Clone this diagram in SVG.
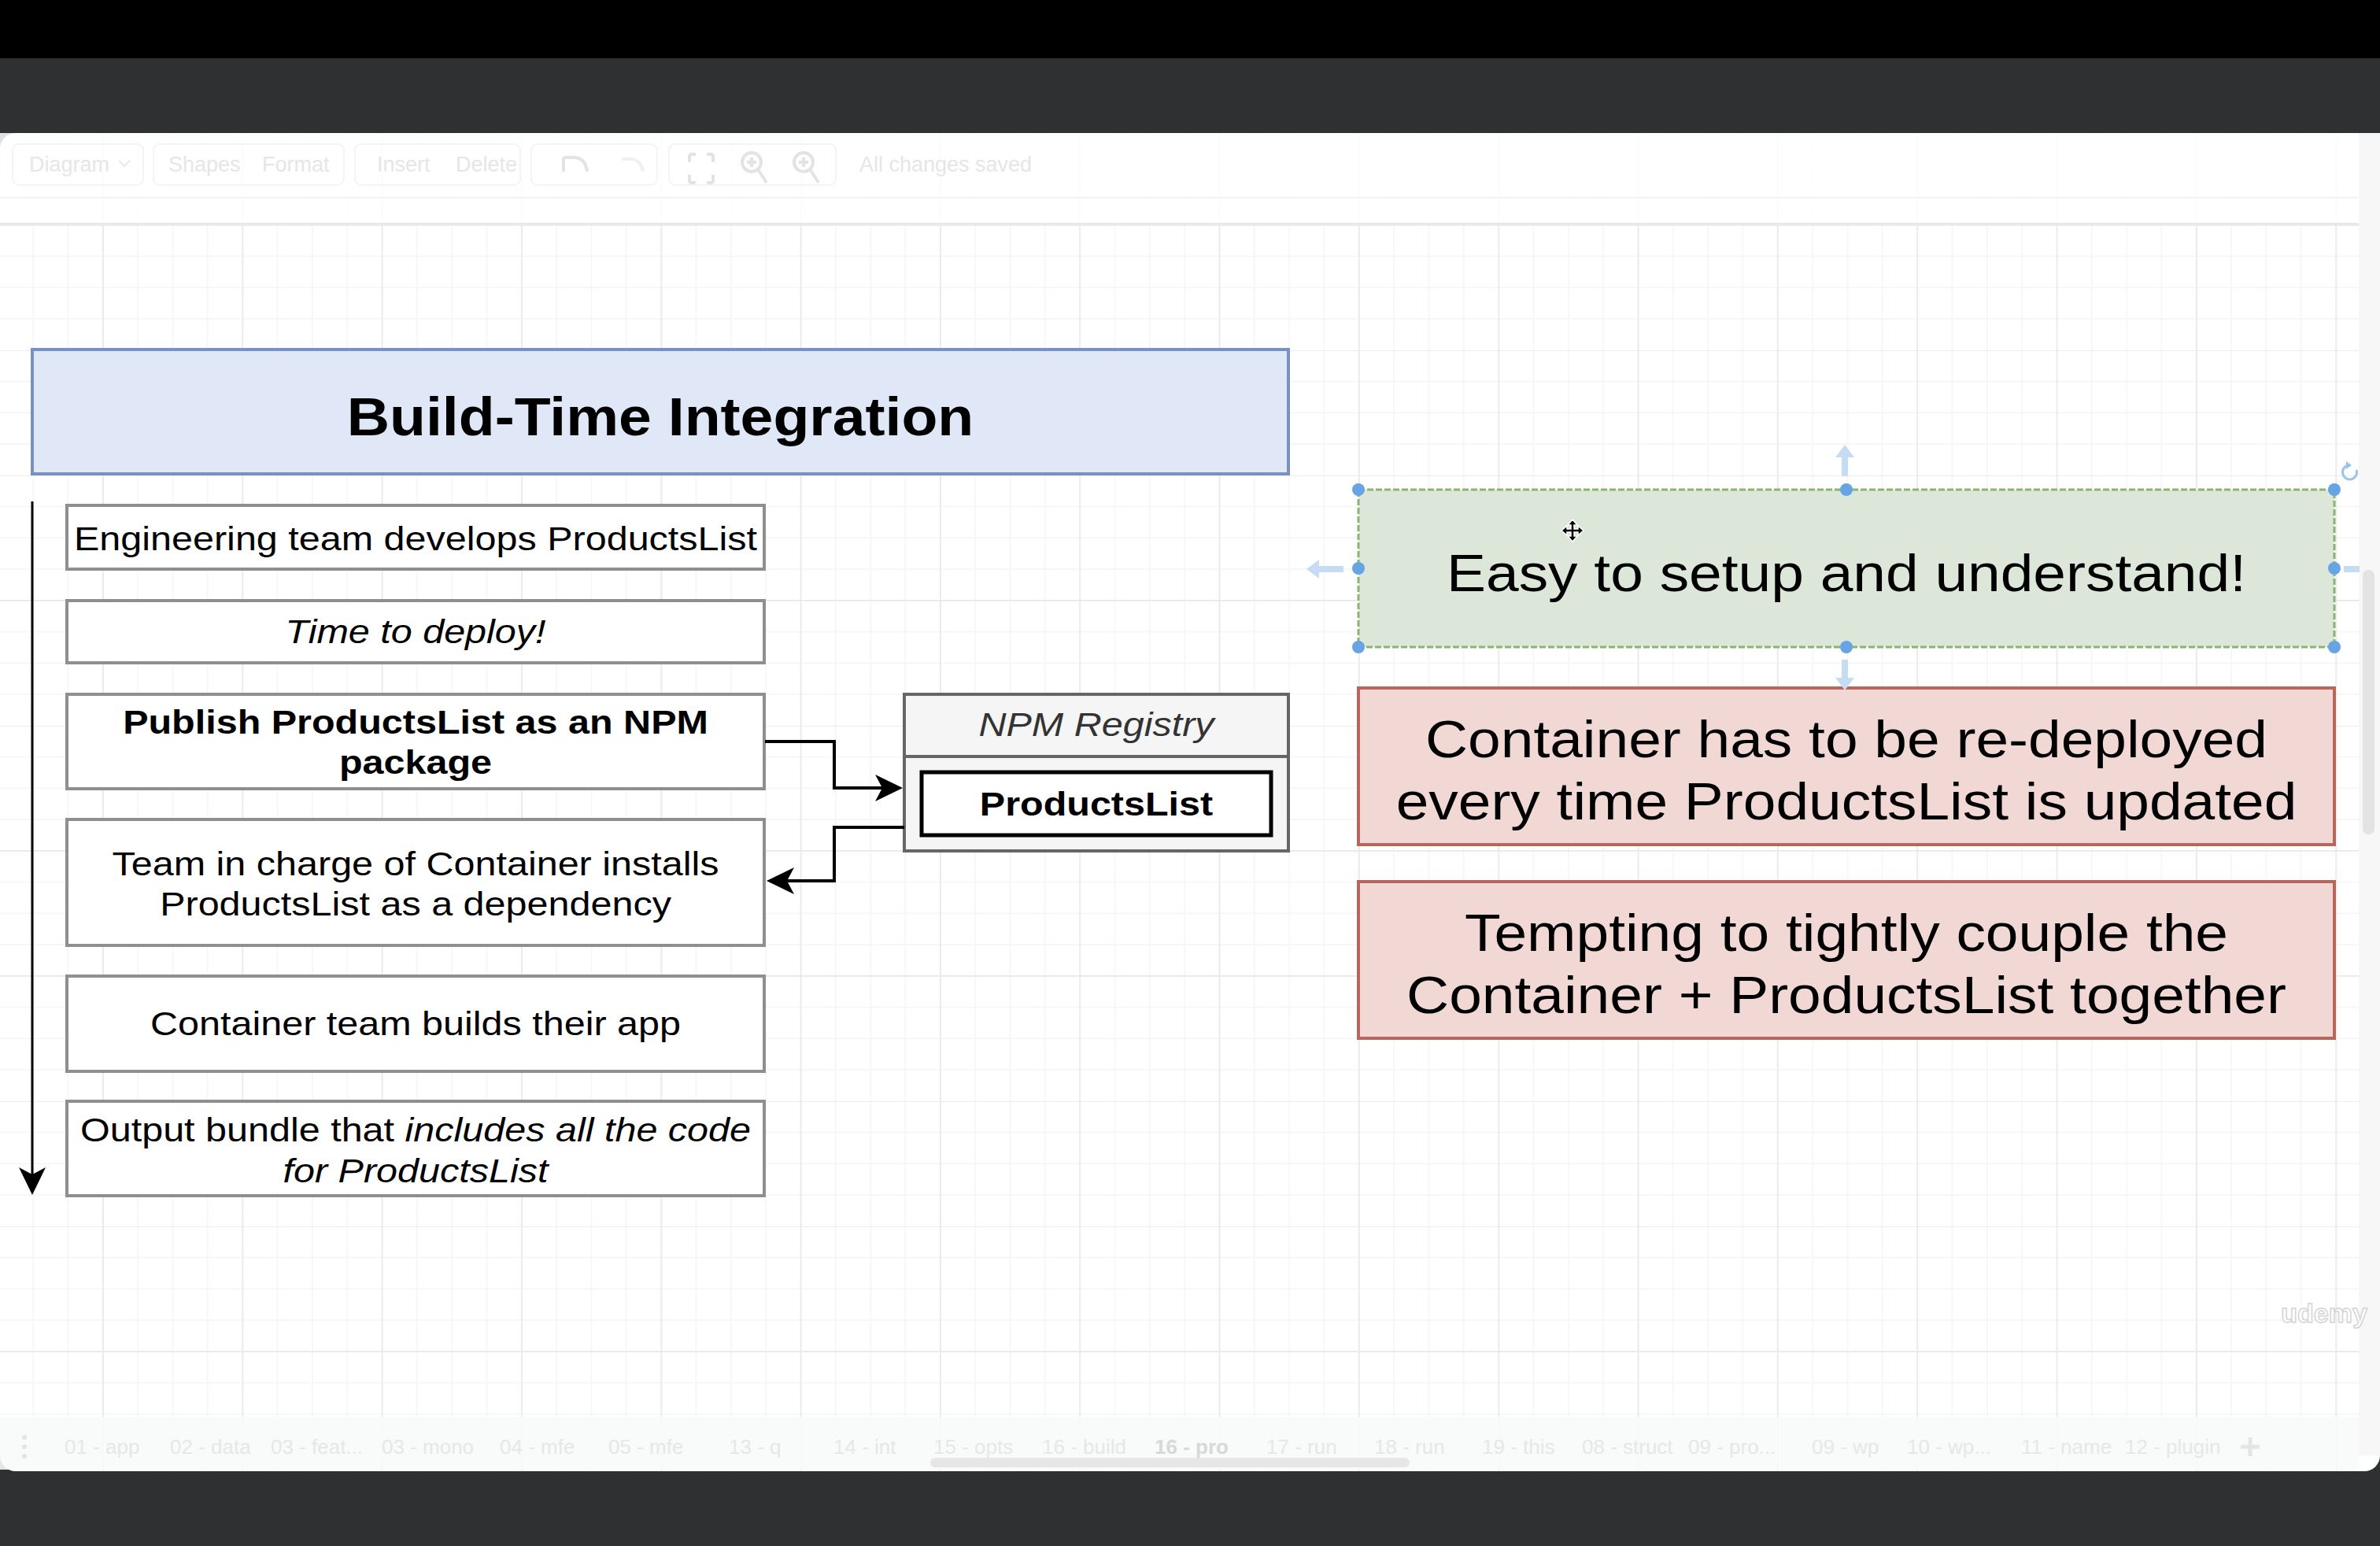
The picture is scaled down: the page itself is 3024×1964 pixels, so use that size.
<svg xmlns="http://www.w3.org/2000/svg" width="3024" height="1964" viewBox="0 0 3024 1964">
  <defs>
    <style>
      .box{fill:#ffffff;stroke:#8f8f8f;stroke-width:4}
      .t{font-family:"Liberation Sans",Arial,Helvetica,sans-serif;fill:#000;text-anchor:middle}
      .s{font-size:43px}
      .big{font-size:66px}
      .b{font-weight:bold}
      .i{font-style:italic}
      .conn{fill:none;stroke:#000;stroke-width:4}
      .ui{font-family:"Liberation Sans",Arial,Helvetica,sans-serif;fill:#e6e6e6;font-size:27px}
      .tab{font-family:"Liberation Sans",Arial,Helvetica,sans-serif;fill:#e7e7e7;font-size:26px}
      .handle{fill:#66a4e4}
      .hover{fill:#c6dcf2;stroke:none}
      .pink{fill:#f2d8d5;stroke:#b8655c;stroke-width:4}
    </style>
    <pattern id="grid" patternUnits="userSpaceOnUse" x="130" y="285" width="177.33" height="159">
      <g fill="#f5f5f5">
        <rect x="44.33" y="0" width="1.6" height="159"/>
        <rect x="88.67" y="0" width="1.6" height="159"/>
        <rect x="133" y="0" width="1.6" height="159"/>
        <rect x="0" y="39.75" width="177.33" height="1.6"/>
        <rect x="0" y="79.5" width="177.33" height="1.6"/>
        <rect x="0" y="119.25" width="177.33" height="1.6"/>
      </g>
      <g fill="#e9e9e9">
        <rect x="0" y="0" width="1.8" height="159"/>
        <rect x="0" y="0" width="177.33" height="1.8"/>
      </g>
    </pattern>
    <marker id="arr" markerUnits="userSpaceOnUse" markerWidth="40" markerHeight="40" viewBox="0 0 40 40" refX="28" refY="20" orient="auto">
      <path d="M3,3 L38,20 L3,37 L12,20 Z" fill="#000"/>
    </marker>
  </defs>

  <!-- window chrome -->
  <rect x="0" y="0" width="3024" height="1964" fill="#2f3032"/>
  <rect x="0" y="0" width="3024" height="74" fill="#000"/>
  <rect x="0" y="169" width="3024" height="1700" rx="20" fill="#ffffff"/>
  <rect x="0" y="169" width="2997" height="1700" fill="url(#grid)"/>
  <rect x="2997" y="169" width="27" height="1680" fill="#f7f7f7"/>
  <rect x="3002" y="724" width="15" height="336" rx="7" fill="#e3e3e3"/>

  <!-- toolbar (faint) -->
  <g id="toolbar">
    <rect x="0" y="169" width="2997" height="115" fill="#ffffff" opacity="0.85"/>
    <rect x="0" y="250" width="2997" height="2" fill="#f3f3f3"/>
    <rect x="0" y="283" width="2997" height="2" fill="#e8e8e8"/>
    <g fill="none" stroke="#f4f4f4" stroke-width="2">
      <rect x="16" y="183" width="166" height="52" rx="8"/>
      <rect x="195" y="183" width="242" height="52" rx="8"/>
      <rect x="451" y="183" width="210" height="52" rx="8"/>
      <rect x="675" y="183" width="160" height="52" rx="8"/>
      <rect x="850" y="183" width="212" height="52" rx="8"/>
    </g>
    <text class="ui" x="37" y="218">Diagram</text>
    <path d="M151,204 L158,211 L165,204" fill="none" stroke="#e8e8e8" stroke-width="2"/>
    <text class="ui" x="214" y="218">Shapes</text>
    <text class="ui" x="333" y="218">Format</text>
    <text class="ui" x="479" y="218">Insert</text>
    <text class="ui" x="579" y="218">Delete</text>
    <g fill="none" stroke="#e3e3e3" stroke-width="4">
      <path d="M716,218 L716,200 M716,200 L728,200 Q744,200 746,218"/>
      <path d="M817,218 Q814,202 800,202 L790,202" stroke="#f0f0f0"/>
      <path d="M876,196 L876,206 M876,196 L884,196 M906,196 L898,196 M906,196 L906,206 M876,232 L876,222 M876,232 L884,232 M906,232 L906,222 M906,232 L898,232"/>
      <circle cx="955" cy="206" r="12"/>
      <path d="M963,215 L974,232 M949,206 L961,206 M955,200 L955,212"/>
      <circle cx="1021" cy="206" r="12"/>
      <path d="M1029,215 L1040,232 M1015,206 L1027,206 M1021,200 L1021,212"/>
    </g>
    <text class="ui" x="1092" y="218">All changes saved</text>
  </g>

  <!-- title -->
  <g id="title">
    <rect x="41" y="444" width="1596" height="158" fill="#e0e8f8" stroke="#7592c2" stroke-width="4"/>
    <text class="t b" font-size="69" transform="translate(839 0) scale(1.09 1)" x="0" y="553">Build-Time Integration</text>
  </g>

  <!-- steps -->
  <g id="step1">
    <rect class="box" x="85" y="642" width="886" height="81"/>
    <text class="t s" transform="translate(528 0) scale(1.128 1)" x="0" y="699">Engineering team develops ProductsList</text>
  </g>
  <g id="step2">
    <rect class="box" x="85" y="763" width="886" height="79"/>
    <text class="t s i" transform="translate(528 0) scale(1.128 1)" x="0" y="817">Time to deploy!</text>
  </g>
  <g id="step3">
    <rect class="box" x="85" y="882" width="886" height="120"/>
    <text class="t s b" transform="translate(528 0) scale(1.128 1)" x="0" y="932">Publish ProductsList as an NPM</text>
    <text class="t s b" transform="translate(528 0) scale(1.128 1)" x="0" y="983">package</text>
  </g>
  <g id="step4">
    <rect class="box" x="85" y="1041" width="886" height="160"/>
    <text class="t s" transform="translate(528 0) scale(1.128 1)" x="0" y="1112">Team in charge of Container installs</text>
    <text class="t s" transform="translate(528 0) scale(1.128 1)" x="0" y="1163">ProductsList as a dependency</text>
  </g>
  <g id="step5">
    <rect class="box" x="85" y="1240" width="886" height="121"/>
    <text class="t s" transform="translate(528 0) scale(1.128 1)" x="0" y="1315">Container team builds their app</text>
  </g>
  <g id="step6">
    <rect class="box" x="85" y="1399" width="886" height="120"/>
    <text class="t s" transform="translate(528 0) scale(1.128 1)" x="0" y="1450">Output bundle that <tspan class="i">includes all the code</tspan></text>
    <text class="t s i" transform="translate(528 0) scale(1.128 1)" x="0" y="1502">for ProductsList</text>
  </g>

  <!-- NPM registry -->
  <g id="npm-registry">
    <rect x="1149" y="882" width="488" height="199" fill="#f5f5f5" stroke="#666666" stroke-width="4"/>
    <line x1="1149" y1="961" x2="1637" y2="961" stroke="#666666" stroke-width="4"/>
    <text class="t s i" style="fill:#333333" transform="translate(1393 0) scale(1.128 1)" x="0" y="935">NPM Registry</text>
  </g>
  <g id="npm-productslist">
    <rect x="1171" y="981" width="444" height="80" fill="#ffffff" stroke="#000000" stroke-width="5"/>
    <text class="t s b" transform="translate(1393 0) scale(1.128 1)" x="0" y="1036">ProductsList</text>
  </g>

  <!-- right side notes -->
  <g id="pro-easy">
    <rect x="1726" y="622" width="1240" height="200" fill="#dde7d9" stroke="#8db372" stroke-width="3" stroke-dasharray="8 3"/>
    <text class="t big" transform="translate(2346 0) scale(1.135 1)" x="0" y="751">Easy to setup and understand!</text>
  </g>
  <g id="con-redeploy">
    <rect class="pink" x="1726" y="874" width="1240" height="199"/>
    <text class="t big" transform="translate(2346 0) scale(1.135 1)" x="0" y="962">Container has to be re-deployed</text>
    <text class="t big" transform="translate(2346 0) scale(1.135 1)" x="0" y="1041">every time ProductsList is updated</text>
  </g>
  <g id="con-coupling">
    <rect class="pink" x="1726" y="1120" width="1240" height="199"/>
    <text class="t big" transform="translate(2346 0) scale(1.135 1)" x="0" y="1208">Tempting to tightly couple the</text>
    <text class="t big" transform="translate(2346 0) scale(1.135 1)" x="0" y="1287">Container + ProductsList together</text>
  </g>

  <!-- connectors -->
  <g id="connectors">
    <path d="M41,637 V1508" fill="none" stroke="#000" stroke-width="3" marker-end="url(#arr)"/>
    <path class="conn" d="M972,942 H1060 V1001 H1137" marker-end="url(#arr)"/>
    <path class="conn" d="M1149,1051 H1060 V1119 H984" marker-end="url(#arr)"/>
  </g>

  <!-- selection overlay on the green note -->
  <g id="selection">
    <path class="hover" d="M2344,565 L2332,581 L2340,581 L2340,605 L2348,605 L2348,581 L2356,581 Z"/>
    <path class="hover" d="M2344,877 L2332,861 L2340,861 L2340,838 L2348,838 L2348,861 L2356,861 Z"/>
    <path class="hover" d="M1660,723 L1676,711 L1676,719 L1707,719 L1707,727 L1676,727 L1676,735 Z"/>
    <rect class="hover" x="2978" y="719" width="20" height="8"/>
    <circle class="handle" cx="1726" cy="622" r="8"/>
    <circle class="handle" cx="2346" cy="622" r="8"/>
    <circle class="handle" cx="2966" cy="622" r="8"/>
    <circle class="handle" cx="1726" cy="722" r="8"/>
    <circle class="handle" cx="2966" cy="722" r="8"/>
    <circle class="handle" cx="1726" cy="822" r="8"/>
    <circle class="handle" cx="2346" cy="822" r="8"/>
    <circle class="handle" cx="2966" cy="822" r="8"/>
    <path d="M2994,597 A9,9 0 1 1 2985,591" fill="none" stroke="#9cc3ea" stroke-width="3"/>
    <path d="M2981,586 L2988,591 L2981,596 Z" fill="#9cc3ea"/>
    <g id="move-cursor" stroke="#ffffff" stroke-width="1.5" fill="#000">
      <path d="M1998,660 L2004,667 L2000,667 L2000,672 L2005,672 L2005,668 L2012,674 L2005,680 L2005,676 L2000,676 L2000,681 L2004,681 L1998,688 L1992,681 L1996,681 L1996,676 L1991,676 L1991,680 L1984,674 L1991,668 L1991,672 L1996,672 L1996,667 L1992,667 Z"/>
    </g>
  </g>

  <!-- bottom tab bar (faint) -->
  <g id="tabbar">
    <rect x="0" y="1800" width="2997" height="67" fill="#f8f9f9" opacity="0.9"/>
    <g fill="#e4e4e4">
      <circle cx="31" cy="1826" r="3"/>
      <circle cx="31" cy="1838" r="3"/>
      <circle cx="31" cy="1850" r="3"/>
    </g>
    <text class="tab" x="82" y="1847">01 - app</text>
    <text class="tab" x="216" y="1847">02 - data</text>
    <text class="tab" x="344" y="1847">03 - feat...</text>
    <text class="tab" x="485" y="1847">03 - mono</text>
    <text class="tab" x="635" y="1847">04 - mfe</text>
    <text class="tab" x="773" y="1847">05 - mfe</text>
    <text class="tab" x="926" y="1847">13 - q</text>
    <text class="tab" x="1059" y="1847">14 - int</text>
    <text class="tab" x="1186" y="1847">15 - opts</text>
    <text class="tab" x="1324" y="1847">16 - build</text>
    <text class="tab" x="1467" y="1847" font-weight="bold" style="fill:#d8d8d8">16 - pro</text>
    <text class="tab" x="1609" y="1847">17 - run</text>
    <text class="tab" x="1746" y="1847">18 - run</text>
    <text class="tab" x="1883" y="1847">19 - this</text>
    <text class="tab" x="2010" y="1847">08 - struct</text>
    <text class="tab" x="2145" y="1847">09 - pro...</text>
    <text class="tab" x="2302" y="1847">09 - wp</text>
    <text class="tab" x="2423" y="1847">10 - wp...</text>
    <text class="tab" x="2568" y="1847">11 - name</text>
    <text class="tab" x="2700" y="1847">12 - plugin</text>
    <path d="M2859,1826 V1850 M2847,1838 H2871" stroke="#e4e4e4" stroke-width="5"/>
    <rect x="1182" y="1852" width="609" height="12" rx="6" fill="#e6e6e6"/>
  </g>

  <!-- watermark -->
  <text x="2953" y="1680" text-anchor="middle" font-family="'Liberation Sans',Arial,sans-serif" font-size="34" font-weight="bold" fill="#ffffff" stroke="#d4d4d4" stroke-width="1.5">udemy</text>
</svg>
